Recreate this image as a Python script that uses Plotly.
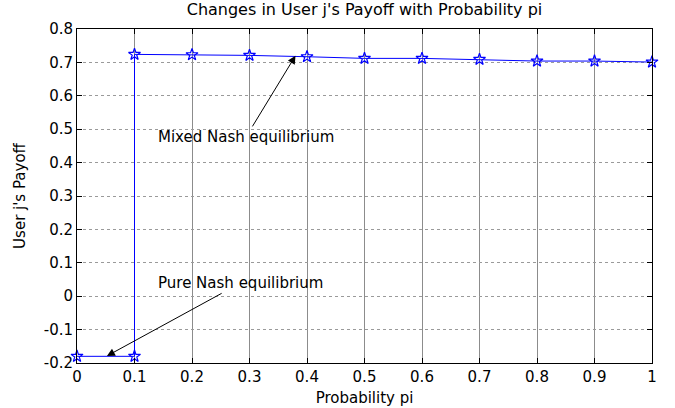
import plotly.graph_objects as go

x_vals = [0.0, 0.1, 0.1, 0.2, 0.3, 0.4, 0.5, 0.6, 0.7, 0.8, 0.9, 1.0]
payoff = [-0.18, -0.18, 0.724, 0.723, 0.721, 0.717, 0.712, 0.712, 0.709, 0.704, 0.704, 0.701]
x_ticks = [0, 0.1, 0.2, 0.3, 0.4, 0.5, 0.6, 0.7, 0.8, 0.9, 1]
x_tick_text = ["0", "0.1", "0.2", "0.3", "0.4", "0.5", "0.6", "0.7", "0.8", "0.9", "1"]
y_ticks = [-0.2, -0.1, 0, 0.1, 0.2, 0.3, 0.4, 0.5, 0.6, 0.7, 0.8]
y_tick_text = ["-0.2", "-0.1", "0", "0.1", "0.2", "0.3", "0.4", "0.5", "0.6", "0.7", "0.8"]

FONT = "DejaVu Sans, Arial, sans-serif"

fig = go.Figure()
fig.add_trace(go.Scatter(
    x=x_vals, y=payoff, mode="lines+markers",
    line=dict(color="#0000ff", width=1),
    marker=dict(symbol="star-open", size=9, color="#0000ff", line=dict(width=1.2, color="#0000ff")),
    showlegend=False, cliponaxis=False,
))

axis_common = dict(
    showline=True, linecolor="black", linewidth=1, mirror="ticks",
    ticks="inside", ticklen=5, tickcolor="black",
    zeroline=False,
    tickfont=dict(family=FONT, size=15, color="black"),
)
fig.update_xaxes(range=[0, 1], tickvals=x_ticks, ticktext=x_tick_text,
                 showgrid=True, gridcolor="#8c8c8c", gridwidth=1,
                 title=dict(text="Probability pi", font=dict(family=FONT, size=15, color="black"), standoff=7),
                 **axis_common)
fig.update_yaxes(range=[-0.2, 0.8], tickvals=y_ticks, ticktext=y_tick_text,
                 showgrid=True, gridcolor="#9a9a9a", gridwidth=1, griddash="dot",
                 title=dict(text="User j's Payoff", font=dict(family=FONT, size=15, color="black"), standoff=14),
                 **axis_common)

fig.add_annotation(x=0.38, y=0.72, xref="x", yref="y",
                   ax=0.294, ay=0.477, axref="x", ayref="y",
                   text="Mixed Nash equilibrium", showarrow=True,
                   arrowhead=2, arrowsize=1.6, arrowwidth=1, arrowcolor="black",
                   font=dict(family=FONT, size=15, color="black"))
fig.add_annotation(x=0.052, y=-0.179, xref="x", yref="y",
                   ax=0.285, ay=0.04, axref="x", ayref="y",
                   text="Pure Nash equilibrium", showarrow=True,
                   arrowhead=2, arrowsize=1.6, arrowwidth=1, arrowcolor="black",
                   font=dict(family=FONT, size=15, color="black"))

fig.update_layout(
    width=675, height=408,
    margin=dict(l=77, r=23, t=29, b=45, autoexpand=False),
    paper_bgcolor="white", plot_bgcolor="white",
    title=dict(text="Changes in User j's Payoff with Probability pi",
               font=dict(family=FONT, size=16, color="black"),
               x=0.5, xanchor="center", xref="paper", y=1, yref="container", yanchor="top", pad=dict(t=4)),
)

fig.write_html("out.html")
